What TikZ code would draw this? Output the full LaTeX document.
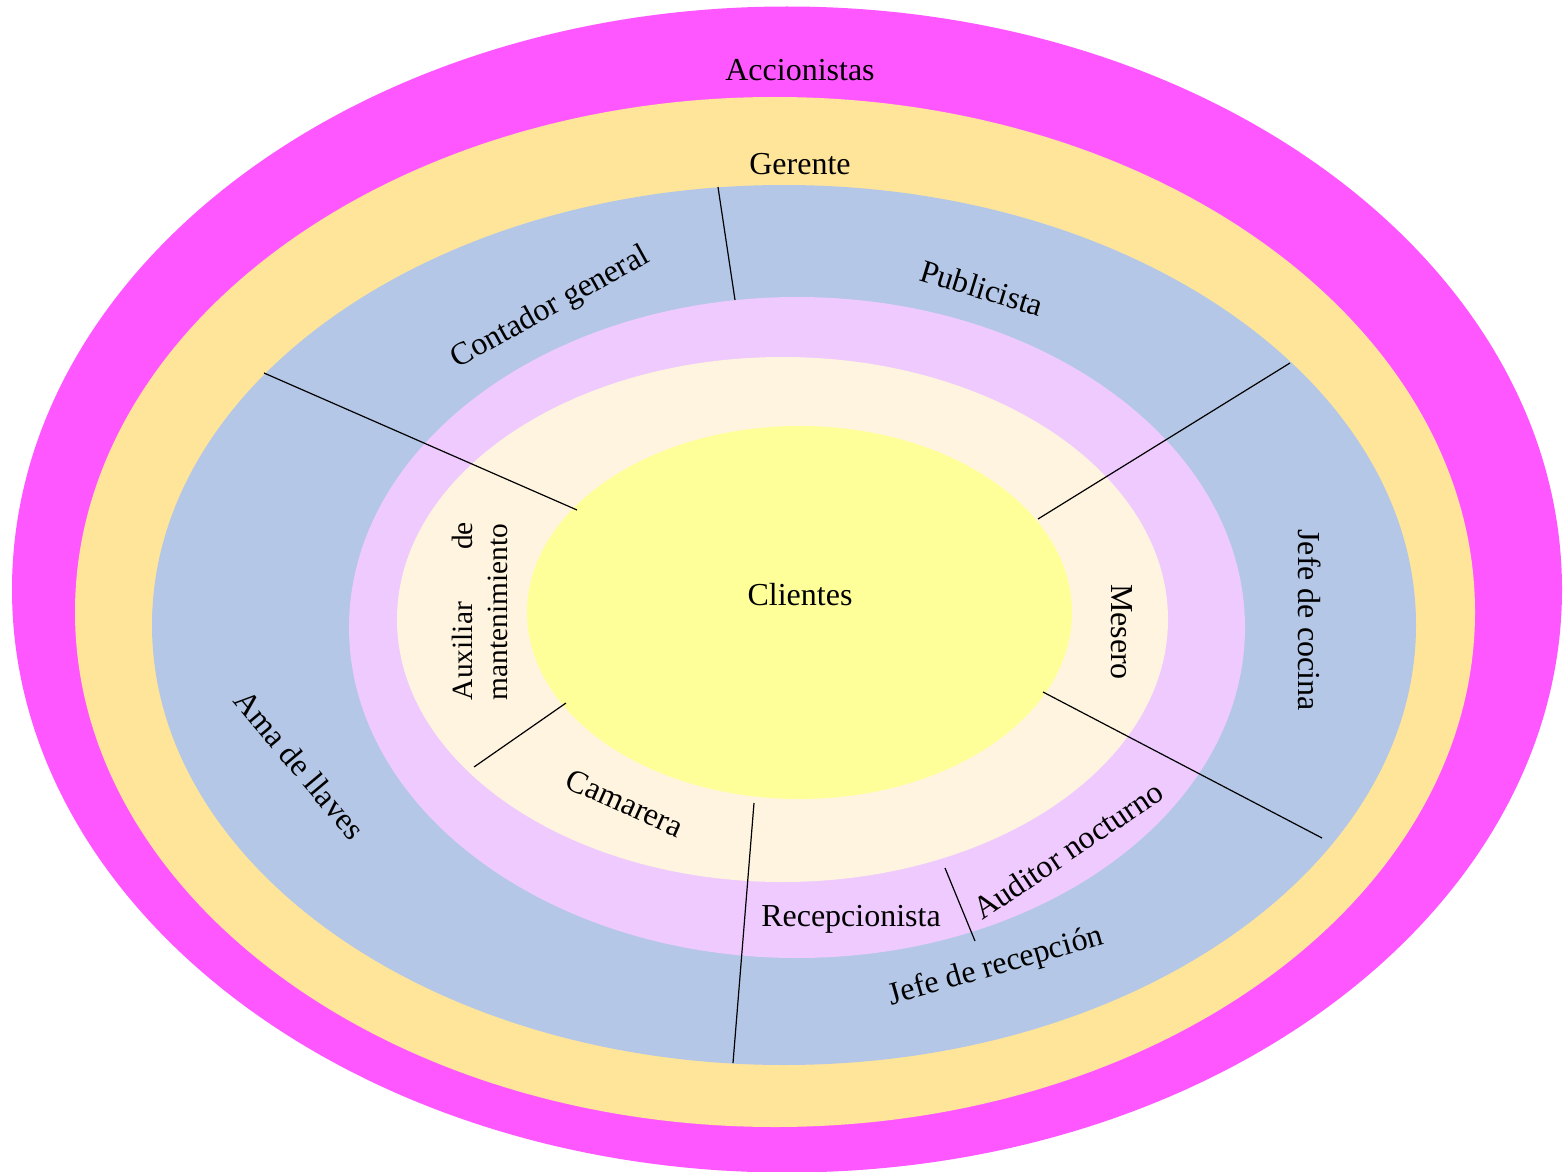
\documentclass[tikz,border=0pt]{standalone}
\usepackage{fontspec}
\setmainfont{Liberation Serif}
\definecolor{cMag}{HTML}{FF57FF}
\definecolor{cGold}{HTML}{FFE599}
\definecolor{cBlue}{HTML}{B4C7E7}
\definecolor{cPurp}{HTML}{EECAFE}
\definecolor{cCream}{HTML}{FFF4DF}
\definecolor{cYel}{HTML}{FFFF99}
\tikzset{
  lbl/.style={inner sep=0pt, font=\fontsize{16}{19}\selectfont},
  sep/.style={draw=black, line width=0.6pt}
}
\begin{document}
\begin{tikzpicture}[x=0.5pt,y=-0.5pt]
\useasboundingbox (0,0) rectangle (1564,1172);
% rings
\fill[cMag]   (787,589.5) ellipse [x radius=387.5pt, y radius=291.5pt];
\fill[cGold]  (775,612)   ellipse [x radius=350pt,   y radius=257.5pt];
\fill[cBlue]  (784,625)   ellipse [x radius=316pt,   y radius=220pt];
\fill[cPurp]  (797,627.5) ellipse [x radius=224pt,   y radius=165.25pt];
\fill[cCream] (782.5,619.5) ellipse [x radius=192.75pt, y radius=131.25pt];
\fill[cYel]   (799.5,612.5) ellipse [x radius=136.25pt, y radius=93.25pt];
% separator end points
\coordinate (a1) at (718,187);  \coordinate (a2) at (735,300);
\coordinate (b1) at (264,373);  \coordinate (b2) at (577,510);
\coordinate (c1) at (1290,363); \coordinate (c2) at (1038,519);
\coordinate (d1) at (1043,692); \coordinate (d2) at (1322,838);
\coordinate (e1) at (566,703);  \coordinate (e2) at (474,767);
\coordinate (f1) at (754,803);  \coordinate (f2) at (733,1063);
\coordinate (g1) at (945,868);  \coordinate (g2) at (975,941);
\draw[sep] (a1) -- (a2);
\draw[sep] (b1) -- (b2);
\draw[sep] (c1) -- (c2);
\draw[sep] (d1) -- (d2);
\draw[sep] (e1) -- (e2);
\draw[sep] (f1) -- (f2);
\draw[sep] (g1) -- (g2);
% labels
\node[lbl] (acc) at (800,70) {Accionistas};
\node[lbl] (ger) at (800,164) {Gerente};
\node[lbl, rotate=29] (cont) at (551,308) {Contador general};
\node[lbl, rotate=-17] (pub) at (982,288) {Publicista};
\node[lbl, rotate=-90] (coc) at (1310,620) {Jefe de cocina};
\node[lbl, rotate=-50] (ama) at (300,765) {Ama de llaves};
\node[inner sep=0pt, rotate=90, align=left, font=\fontsize{14.7}{17.6}\selectfont] (aux) at (480,611)
  {\makebox[89pt][l]{Auxiliar\hfill de}\\mantenimiento};
\node[lbl] (cli) at (800,595) {Clientes};
\node[lbl, rotate=-90] (mes) at (1122,632) {Mesero};
\node[lbl, rotate=-24] (cam) at (625,803) {Camarera};
\node[lbl] (rec) at (851,919) {Recepcionista};
\node[lbl, rotate=34] (aud) at (1068,850) {Auditor nocturno};
\node[lbl, rotate=16] (jrec) at (996,967) {Jefe de recepción};
\end{tikzpicture}
\end{document}
